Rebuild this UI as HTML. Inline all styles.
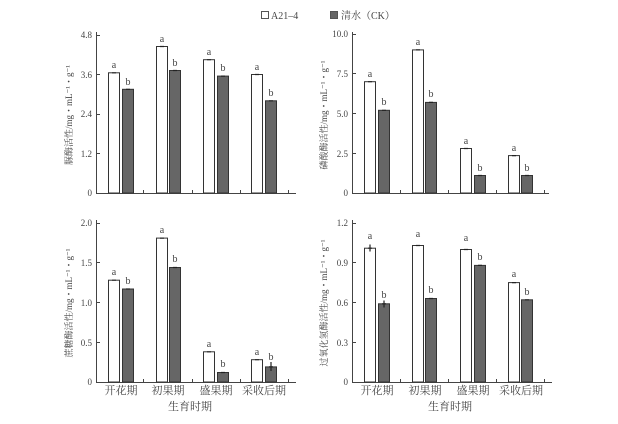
<!DOCTYPE html>
<html><head><meta charset="utf-8"><style>
html,body{margin:0;padding:0;background:#fff}
svg{display:block}
text{font-family:"Liberation Serif","Noto Serif CJK SC",serif;fill:#444}
.t{font-size:10px}
.l{font-size:9px}
.s{font-size:10px}
.c{font-size:11px}
</style></head><body>
<svg width="618" height="424" viewBox="0 0 618 424">
<g stroke="#555" stroke-width="1" fill="none">
<rect x="261.5" y="11.5" width="7" height="7" fill="#fff"/>
<rect x="330.5" y="11.5" width="7" height="7" fill="#666"/>
</g>
<text x="271" y="19" class="t">A21–4</text>
<text x="341" y="19" class="t">清水（CK）</text>

<g stroke="#444" stroke-width="1" fill="none">
<path d="M96.5,32V193.5H296M352.5,32V193.5H549M96.5,220V382.5H296M352.5,220V382.5H552"/>
<path d="M96,35.5h4M96,74.5h4M96,114.5h4M96,153.5h4"/>
<path d="M352,34.5h4M352,73.5h4M352,113.5h4M352,153.5h4"/>
<path d="M96,223.5h4M96,262.5h4M96,302.5h4M96,342.5h4"/>
<path d="M352,223.5h4M352,262.5h4M352,302.5h4M352,342.5h4"/>
<path d="M143.5,193v-3M192.5,193v-3M240.5,193v-3M288.5,193v-3"/>
<path d="M400.5,193v-3M448.5,193v-3M496.5,193v-3M544.5,193v-3"/>
<path d="M143.5,382v-3M192.5,382v-3M240.5,382v-3M288.5,382v-3"/>
<path d="M400.5,382v-3M448.5,382v-3M496.5,382v-3M544.5,382v-3"/>
</g>

<g stroke="#333" stroke-width="1">
<rect x="108.5" y="72.8" width="11" height="120.2" fill="#fff"/>
<rect x="122.5" y="89.3" width="11" height="103.7" fill="#666"/>
<rect x="156.5" y="46.5" width="11" height="146.5" fill="#fff"/>
<rect x="169.5" y="70.5" width="11" height="122.5" fill="#666"/>
<rect x="203.5" y="59.7" width="11" height="133.3" fill="#fff"/>
<rect x="217.5" y="76.1" width="11" height="116.9" fill="#666"/>
<rect x="251.5" y="74.5" width="11" height="118.5" fill="#fff"/>
<rect x="265.5" y="100.8" width="11" height="92.2" fill="#666"/>
<rect x="364.5" y="81.7" width="11" height="111.3" fill="#fff"/>
<rect x="378.5" y="110.3" width="11" height="82.7" fill="#666"/>
<rect x="412.5" y="49.9" width="11" height="143.1" fill="#fff"/>
<rect x="425.5" y="102.4" width="11" height="90.6" fill="#666"/>
<rect x="460.5" y="148.5" width="11" height="44.5" fill="#fff"/>
<rect x="474.5" y="175.5" width="11" height="17.5" fill="#666"/>
<rect x="508.5" y="155.6" width="11" height="37.4" fill="#fff"/>
<rect x="521.5" y="175.5" width="11" height="17.5" fill="#666"/>
<rect x="108.5" y="280.2" width="11" height="101.8" fill="#fff"/>
<rect x="122.5" y="289" width="11" height="93" fill="#666"/>
<rect x="156.5" y="238.1" width="11" height="143.9" fill="#fff"/>
<rect x="169.5" y="267.5" width="11" height="114.5" fill="#666"/>
<rect x="203.5" y="351.8" width="11" height="30.2" fill="#fff"/>
<rect x="217.5" y="372.5" width="11" height="9.5" fill="#666"/>
<rect x="251.5" y="359.7" width="11" height="22.3" fill="#fff"/>
<rect x="265.5" y="366.9" width="11" height="15.1" fill="#666"/>
<rect x="364.5" y="248.2" width="11" height="133.8" fill="#fff"/>
<rect x="378.5" y="303.8" width="11" height="78.2" fill="#666"/>
<rect x="412.5" y="245.5" width="11" height="136.5" fill="#fff"/>
<rect x="425.5" y="298.5" width="11" height="83.5" fill="#666"/>
<rect x="460.5" y="249.5" width="11" height="132.5" fill="#fff"/>
<rect x="474.5" y="265.4" width="11" height="116.6" fill="#666"/>
<rect x="508.5" y="282.6" width="11" height="99.4" fill="#fff"/>
<rect x="521.5" y="299.8" width="11" height="82.2" fill="#666"/>
</g>
<g stroke="#222" stroke-width="1.2">
<path d="M112,72.8h4M126,89.3h4M160,46.5h4M173,70.5h4M207,59.7h4M221,76.1h4M255,74.5h4M269,100.8h4"/>
<path d="M368,81.7h4M382,110.3h4M416,49.9h4M429,102.4h4M464,148.5h4M478,175.5h4M512,155.6h4M525,175.5h4"/>
<path d="M112,280.2h4M126,289h4M160,238.1h4M173,267.5h4M207,351.8h4M221,372.5h4M255,359.7h4M269,366.9h4"/>
<path d="M368,248.2h4M382,303.8h4M416,245.5h4M429,298.5h4M464,249.5h4M478,265.4h4M512,282.6h4M525,299.8h4"/>
<path d="M370,244.5v7M384,300.5v7M271,362v9"/>
</g>

<g class="l" text-anchor="end">
<text x="92" y="196">0</text><text x="92" y="157">1.2</text><text x="92" y="117">2.4</text><text x="92" y="78">3.6</text><text x="92" y="38">4.8</text>
<text x="348" y="196">0</text><text x="348" y="157">2.5</text><text x="348" y="117">5.0</text><text x="348" y="77">7.5</text><text x="348" y="37">10.0</text>
<text x="92" y="385">0</text><text x="92" y="346">0.5</text><text x="92" y="306">1.0</text><text x="92" y="266">1.5</text><text x="92" y="226">2.0</text>
<text x="348" y="385">0</text><text x="348" y="346">0.3</text><text x="348" y="306">0.6</text><text x="348" y="266">0.9</text><text x="348" y="226">1.2</text>
</g>

<g class="s" text-anchor="middle">
<text x="114" y="68">a</text><text x="128" y="85">b</text><text x="162" y="42">a</text><text x="175" y="66">b</text>
<text x="209" y="55">a</text><text x="223" y="71">b</text><text x="257" y="70">a</text><text x="271" y="96">b</text>
<text x="370" y="77">a</text><text x="384" y="105">b</text><text x="418" y="45">a</text><text x="431" y="97">b</text>
<text x="466" y="144">a</text><text x="480" y="171">b</text><text x="514" y="151">a</text><text x="527" y="171">b</text>
<text x="114" y="275">a</text><text x="128" y="284">b</text><text x="162" y="233">a</text><text x="175" y="262">b</text>
<text x="209" y="347">a</text><text x="223" y="367">b</text><text x="257" y="355">a</text><text x="271" y="360">b</text>
<text x="370" y="239">a</text><text x="384" y="298">b</text><text x="418" y="237">a</text><text x="431" y="293">b</text>
<text x="466" y="241">a</text><text x="480" y="260">b</text><text x="514" y="277">a</text><text x="527" y="295">b</text>
</g>

<g class="c" text-anchor="middle">
<text x="121" y="394">开花期</text><text x="168" y="394">初果期</text><text x="216" y="394">盛果期</text><text x="264" y="394">采收后期</text>
<text x="377" y="394">开花期</text><text x="425" y="394">初果期</text><text x="473" y="394">盛果期</text><text x="521" y="394">采收后期</text>
<text x="190" y="410">生育时期</text><text x="450" y="410">生育时期</text>
</g>

<g class="l" text-anchor="middle">
<text transform="translate(72,115) rotate(-90)">脲酶活性/mg・mL⁻¹・g⁻¹</text>
<text transform="translate(327,115) rotate(-90)">磷酸酶活性/mg・mL⁻¹・g⁻¹</text>
<text transform="translate(72,303) rotate(-90)">蔗糖酶活性/mg・mL⁻¹・g⁻¹</text>
<text transform="translate(327,303) rotate(-90)">过氧化氢酶活性/mg・mL⁻¹・g⁻¹</text>
</g>
</svg>
</body></html>
